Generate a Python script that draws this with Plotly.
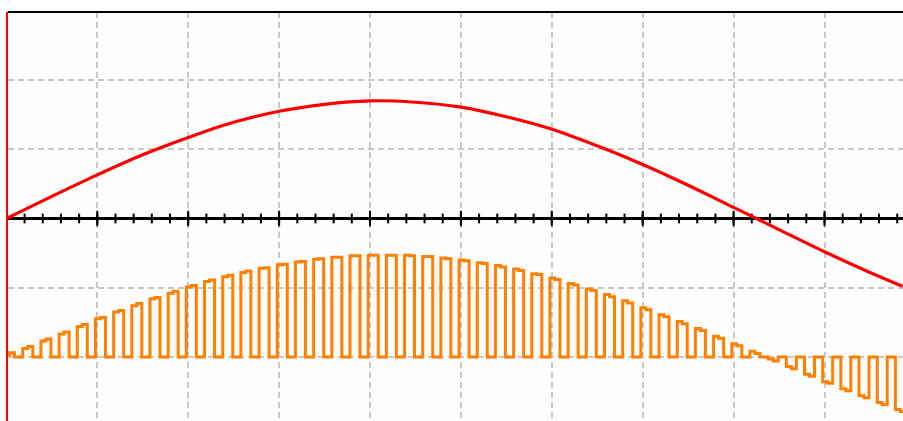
import numpy as np
import plotly.graph_objects as go

# ---- data (in screen divisions) ----
red_x = [0, 0.5, 1.0, 1.5, 2.0, 2.5, 3.0, 3.5, 4.0, 4.5, 5.0, 5.5, 6.0, 6.5,
         7.0, 7.5, 8.0, 8.5, 9.0, 9.5, 9.86]
red_y = [0.0, 0.32, 0.63, 0.92, 1.17, 1.39, 1.55, 1.65, 1.70, 1.68, 1.61, 1.47,
         1.29, 1.05, 0.78, 0.48, 0.16, -0.16, -0.48, -0.78, -0.98]

pwm_baseline = -2.0
# pulse level (above baseline) at the start and second half of each pulse
pulse_a = [0.03, 0.12, 0.23, 0.33, 0.44, 0.55, 0.65, 0.74, 0.84, 0.92,
           1.01, 1.09, 1.16, 1.22, 1.28, 1.33, 1.37, 1.41, 1.44, 1.46,
           1.47, 1.47, 1.47, 1.45, 1.43, 1.40, 1.36, 1.32, 1.27, 1.20,
           1.14, 1.06, 0.98, 0.90, 0.81, 0.71, 0.61, 0.51, 0.41, 0.30,
           0.19, 0.08, -0.03, -0.14, -0.25, -0.36, -0.46, -0.56, -0.66, -0.76]
pulse_b = [0.06, 0.15, 0.26, 0.36, 0.47, 0.57, 0.67, 0.77, 0.86, 0.95,
           1.03, 1.11, 1.18, 1.24, 1.29, 1.34, 1.38, 1.42, 1.44, 1.46,
           1.47, 1.47, 1.46, 1.45, 1.42, 1.39, 1.35, 1.30, 1.25, 1.19,
           1.12, 1.04, 0.96, 0.87, 0.78, 0.68, 0.58, 0.48, 0.38, 0.27,
           0.16, 0.05, -0.06, -0.17, -0.28, -0.38, -0.49, -0.59, -0.69, -0.79]
pulse_period = 0.2

PX_X = 90.9   # pixels per x division
PX_Y = 69.2   # pixels per y division
L, T = 8, 12
XMIN = (L - 6.4) / PX_X
XMAX = XMIN + (903 - L) / PX_X
YTOP = (218.5 - T) / PX_Y
YBOT = YTOP - (421 - T) / PX_Y

# ---- build PWM step path ----
ox, oy = [0.0], [pwm_baseline]
for k, (a, b) in enumerate(zip(pulse_a, pulse_b)):
    t = k * pulse_period
    rise = max(0.0, t - 0.02)
    ox += [rise, t + 0.035, t + 0.09]
    oy += [pwm_baseline + a, pwm_baseline + b, pwm_baseline]

minor_ticks = [round(v, 2) for v in np.arange(0.2, XMAX, 0.2)]
major_ticks = list(range(1, 10))

fig = go.Figure()
fig.add_trace(go.Scatter(x=minor_ticks, y=[0] * len(minor_ticks), mode="markers",
                         marker=dict(symbol="line-ns", size=7, line=dict(width=2, color="black")),
                         hoverinfo="skip", showlegend=False))
fig.add_trace(go.Scatter(x=major_ticks, y=[0] * len(major_ticks), mode="markers",
                         marker=dict(symbol="line-ns", size=11, line=dict(width=2, color="black")),
                         hoverinfo="skip", showlegend=False))
fig.add_trace(go.Scatter(x=ox, y=oy, mode="lines", line=dict(color="#ff7f00", width=3, shape="hv"),
                         showlegend=False))
fig.add_trace(go.Scatter(x=red_x, y=red_y, mode="lines", line=dict(color="#ff0000", width=3.2, shape="spline"),
                         showlegend=False))

fig.update_layout(
    width=903, height=421,
    margin=dict(l=L, r=0, t=T, b=0, pad=0),
    paper_bgcolor="white", plot_bgcolor="#fdfdfd",
    showlegend=False,
    xaxis=dict(range=[XMIN, XMAX], dtick=1, tick0=0, showticklabels=False, ticks="",
               showgrid=True, gridcolor="#c8c8c8", gridwidth=1.5, griddash="6px,4px",
               zeroline=False, showline=False),
    yaxis=dict(range=[YBOT, YTOP], dtick=1, tick0=0, showticklabels=False, ticks="",
               showgrid=True, gridcolor="#c8c8c8", gridwidth=1.5, griddash="6px,4px",
               zeroline=True, zerolinecolor="black", zerolinewidth=3,
               showline=True, linecolor="#ff0000", linewidth=2),
    shapes=[dict(type="line", xref="paper", yref="paper", x0=0, x1=1, y0=1, y1=1,
                 line=dict(color="black", width=2))],
)

fig.write_html("out.html", config={"displayModeBar": False},
               post_script="document.body.style.margin='0';document.body.style.overflow='hidden';")
